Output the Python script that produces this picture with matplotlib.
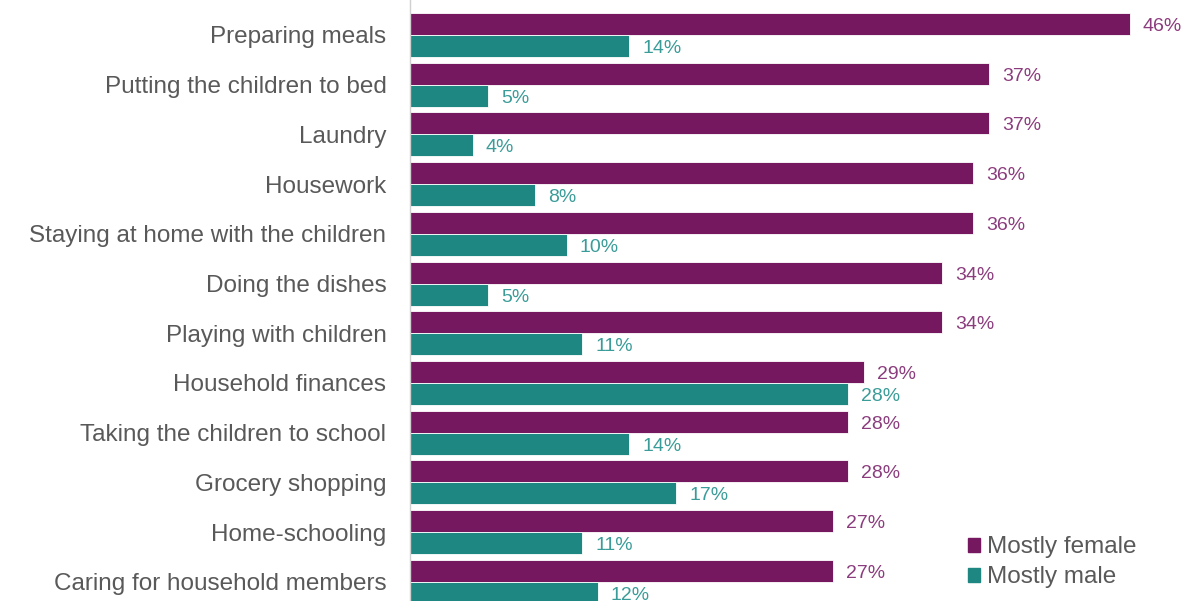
import numpy as np
import matplotlib
matplotlib.use("Agg")
import matplotlib.pyplot as plt
from matplotlib.patches import Patch

plt.rcParams["font.family"] = ["Liberation Sans", "DejaVu Sans"]

categories = [
    "Preparing meals",
    "Putting the children to bed",
    "Laundry",
    "Housework",
    "Staying at home with the children",
    "Doing the dishes",
    "Playing with children",
    "Household finances",
    "Taking the children to school",
    "Grocery shopping",
    "Home-schooling",
    "Caring for household members",
]
female = [46, 37, 37, 36, 36, 34, 34, 29, 28, 28, 27, 27]
male = [14, 5, 4, 8, 10, 5, 11, 28, 14, 17, 11, 12]

PURPLE = "#761860"
TEAL = "#1E8782"
PURPLE_TXT = "#8B3C7D"
TEAL_TXT = "#3A9C98"
GRAY = "#595959"

W, H = 1186, 601
fig = plt.figure(figsize=(W / 100, H / 100), dpi=100)
ax = fig.add_axes([410 / W, 0, 1 - 410 / W, 1])

pitch = 49.7            # px per group
px_per_pct = 15.65
y = np.arange(len(categories))
bh = 22 / pitch

ax.barh(y - bh / 2, female, height=bh, color=PURPLE, edgecolor="white", linewidth=0.6)
ax.barh(y + bh / 2, male, height=bh, color=TEAL, edgecolor="white", linewidth=0.6)

# value labels, nudged a touch below bar centre like the original
off = 13 / px_per_pct
dy = 2.5 / pitch
for i, (f, m) in enumerate(zip(female, male)):
    ax.text(f + off, i - bh / 2 + dy, f"{f}%", va="center", ha="left",
            fontsize=14, color=PURPLE_TXT)
    ax.text(m + off, i + bh / 2 + dy, f"{m}%", va="center", ha="left",
            fontsize=14, color=TEAL_TXT)

ax.set_xlim(0, (W - 410) / px_per_pct)
ax.set_ylim((H - 35) / pitch, -35 / pitch)

ax.set_yticks(y)
ax.set_yticklabels(categories, fontsize=17.5, color=GRAY)
ax.tick_params(axis="y", length=0, pad=17)
ax.set_xticks([])

for s in ["top", "right", "bottom"]:
    ax.spines[s].set_visible(False)
ax.spines["left"].set_color("#d0d0d0")
ax.spines["left"].set_linewidth(1.0)

handles = [Patch(color=PURPLE, label="Mostly female"),
           Patch(color=TEAL, label="Mostly male")]
leg = fig.legend(handles=handles, loc="lower left",
                 bbox_to_anchor=(958 / W, 3 / H), frameon=False,
                 fontsize=17.5, handlelength=0.5, handleheight=0.5,
                 handletextpad=0.3, labelspacing=0.32, borderaxespad=0)
for t in leg.get_texts():
    t.set_color(GRAY)

fig.savefig("out.png", dpi=100)
